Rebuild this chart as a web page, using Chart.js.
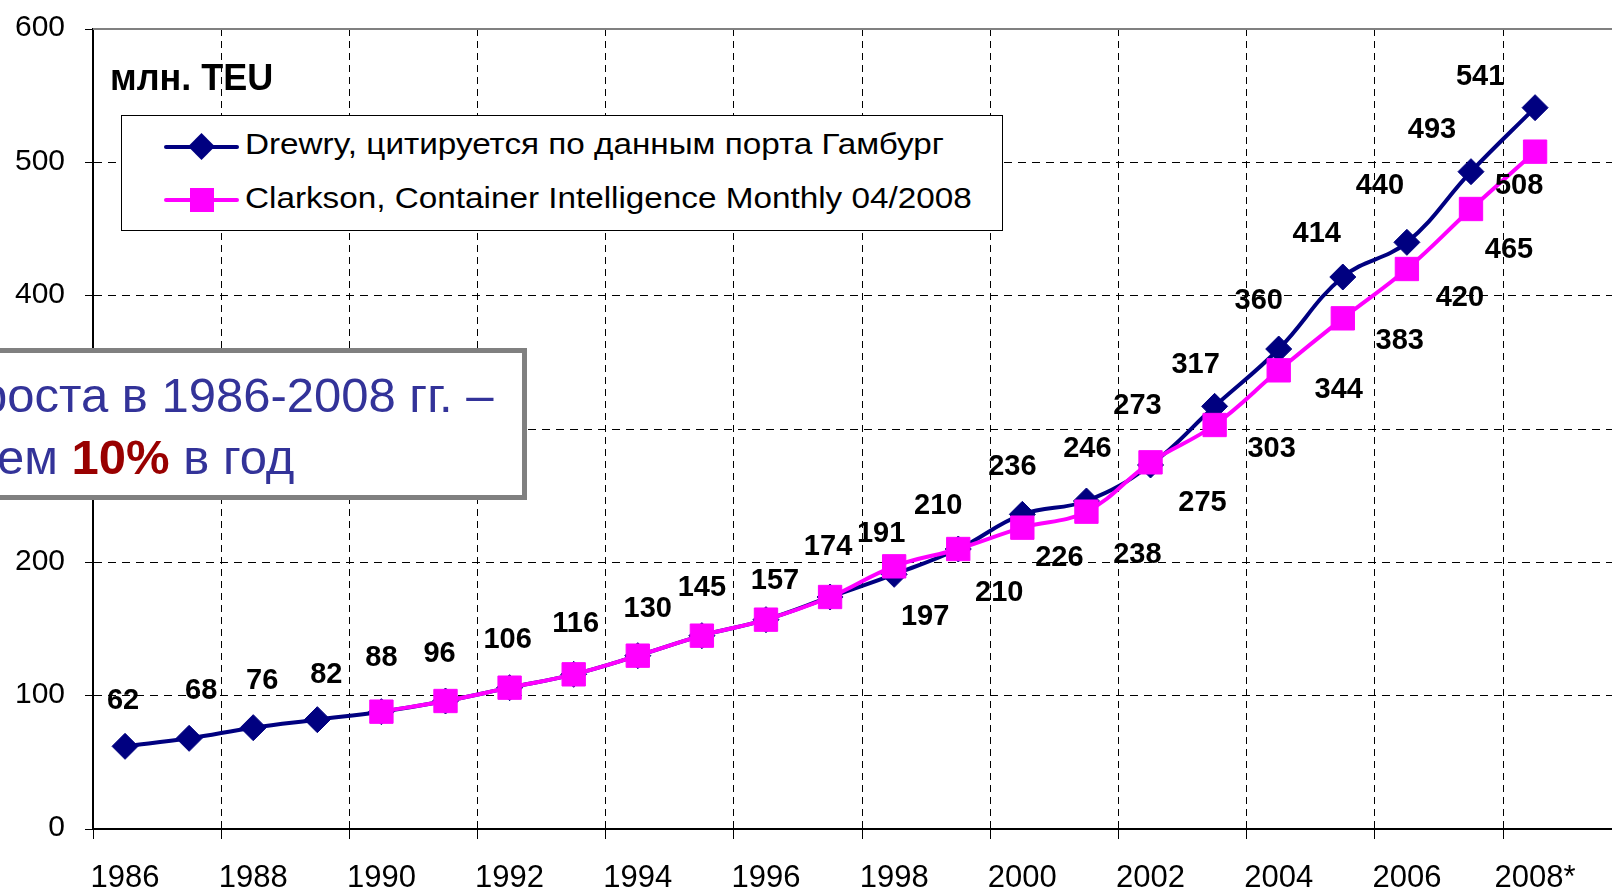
<!DOCTYPE html>
<html>
<head>
<meta charset="utf-8">
<script src="https://cdn.jsdelivr.net/npm/chart.js@4.4.1/dist/chart.umd.min.js"></script>
<style>
    html, body { margin: 0; padding: 0; background: #fff; overflow: hidden; }
    #wrap { position: relative; width: 1612px; height: 889px; overflow: hidden; font-family: 'Liberation Sans', Arial, sans-serif; }
    #chart { position: absolute; left: 0; top: 0; }
    .abs { position: absolute; white-space: nowrap; line-height: 1; }
    #unit { left: 110px; top: 60px; font-size: 36px; font-weight: bold; color: #000; }
    #legend { left: 121px; top: 115px; width: 880px; height: 114px; border: 1px solid #000; background: #fff; }
    .legend-line { position: absolute; left: 42px; width: 75px; height: 4px; border-radius: 2px; }
    .legend-text { position: absolute; left: 123px; font-size: 29px; color: #000; line-height: 1; white-space: nowrap;
        transform: scaleX(1.147); transform-origin: left center; }
    .diamond { position: absolute; left: 28px; top: -8px; width: 19px; height: 19px; background: #000080; transform: rotate(45deg); }
    .square { position: absolute; left: 26px; top: -10px; width: 24px; height: 24px; background: #ff00ff; }
    #callout { left: -40px; top: 348px; width: 557px; height: 142px; border: 5px solid #808080; background: #fff; }
    .callout-text { font-size: 49px; color: #333399; }
    .callout-text b { color: #990000; }
</style>
</head>
<body>
<div id="wrap">
    <canvas id="chart" width="1612" height="889"></canvas>
    <div id="unit" class="abs">млн. TEU</div>
    <div id="legend" class="abs">
        <div class="legend-line" style="top: 29px; background: #000080;"><div class="diamond"></div></div>
        <div class="legend-text" style="top: 14px;">Drewry, цитируется по данным порта Гамбург</div>
        <div class="legend-line" style="top: 82px; background: #ff00ff;"><div class="square"></div></div>
        <div class="legend-text" style="top: 68px;">Clarkson, Container Intelligence Monthly 04/2008</div>
    </div>
    <div id="callout" class="abs"></div>
    <div class="abs callout-text" style="left: -20px; top: 371px;">роста в 1986-2008 гг. –</div>
    <div class="abs callout-text" style="left: -3px; top: 433px;">ем <b>10%</b> в год</div>
</div>
<script>
// Data
const years = ['1986', '1987', '1988', '1989', '1990', '1991', '1992', '1993', '1994', '1995', '1996', '1997',
    '1998', '1999', '2000', '2001', '2002', '2003', '2004', '2005', '2006', '2007', '2008*'];
const drewry = [62, 68, 76, 82, 88, 96, 106, 116, 130, 145, 157, 174, 191, 210, 236, 246, 273, 317, 360, 414, 440, 493, 541];
const clarkson = [null, null, null, null, 88, 96, 106, 116, 130, 145, 157, 174, 197, 210, 226, 238, 275, 303, 344, 383, 420, 465, 508];
const yTicks = [0, 100, 200, 300, 400, 500, 600];

// Label placement (pixel offsets from each point)
const drewryLabelOffsets = [
    [-2, -45], [12, -47], [9, -47], [9, -45], [0, -54], [-6, -47], [-2, -48], [2, -50], [10, -47], [0, -48],
    [9, -39], [-2, -50], [-13, -40], [-20, -43], [-10, -47], [1, -52], [-13, -59], [-19, -41], [-20, -48],
    [-26, -43], [-27, -56], [-39, -42], [-55, -31]
];
const clarksonLabelOffsets = [
    null, null, null, null, null, null, null, null, null, null, null, null,
    [31, 51], [41, 44], [37, 30], [51, 43], [52, 41], [57, 24], [60, 20], [57, 23], [53, 29], [38, 41], [-16, 34]
];

const FONT = "'Liberation Sans', Arial, sans-serif";
const X_MIN = -0.5;
const X_MAX = 23.2;

// Value labels next to the markers
const valueLabels = {
    id: 'valueLabels',
    afterDatasetsDraw(chart) {
        const ctx = chart.ctx;
        ctx.save();
        ctx.font = `bold 29px ${FONT}`;
        ctx.fillStyle = '#000';
        ctx.textAlign = 'center';
        ctx.textBaseline = 'middle';
        chart.data.datasets.forEach((ds, di) => {
            const meta = chart.getDatasetMeta(di);
            ds.labelOffsets.forEach((off, i) => {
                const pt = meta.data[i];
                if (!off || !pt || ds.data[i].y == null) return;
                ctx.fillText(String(ds.data[i].y), pt.x + off[0], pt.y + off[1]);
            });
        });
        ctx.restore();
    }
};

// Top edge of the plot frame
const frameTop = {
    id: 'frameTop',
    beforeDatasetsDraw(chart) {
        const { ctx, chartArea } = chart;
        ctx.save();
        ctx.strokeStyle = '#808080';
        ctx.lineWidth = 2;
        ctx.beginPath();
        ctx.moveTo(chartArea.left, chartArea.top);
        ctx.lineTo(chartArea.right, chartArea.top);
        ctx.stroke();
        ctx.restore();
    }
};

// no extra room for overhanging tick labels
function noPadding(s) {
    s.paddingTop = 0;
    s.paddingBottom = 0;
    s.paddingLeft = 0;
    s.paddingRight = 0;
}

function init() {
    const ctx = document.getElementById('chart').getContext('2d');
    new Chart(ctx, {
        type: 'line',
        data: {
            datasets: [{
                label: 'Drewry, цитируется по данным порта Гамбург',
                data: drewry.map((v, i) => ({ x: i, y: v })),
                labelOffsets: drewryLabelOffsets,
                borderColor: '#000080',
                backgroundColor: '#000080',
                borderWidth: 4,
                tension: 0.4,
                pointStyle: 'rectRot',
                pointRadius: 13,
                pointBorderWidth: 1,
                pointBackgroundColor: '#000080',
                pointBorderColor: '#000080',
                order: 1
            }, {
                label: 'Clarkson, Container Intelligence Monthly 04/2008',
                data: clarkson.map((v, i) => ({ x: i, y: v })),
                labelOffsets: clarksonLabelOffsets,
                borderColor: '#ff00ff',
                backgroundColor: '#ff00ff',
                borderWidth: 4,
                tension: 0.4,
                pointStyle: 'rect',
                pointRadius: 16.5,
                pointBorderWidth: 1,
                pointBackgroundColor: '#ff00ff',
                pointBorderColor: '#ff00ff',
                order: 0
            }]
        },
        options: {
            responsive: false,
            animation: false,
            layout: { autoPadding: false, padding: { top: 29, right: 0, bottom: 0, left: 0 } },
            plugins: {
                legend: { display: false },
                tooltip: { enabled: false }
            },
            scales: {
                // grid lines and tick marks between category pairs
                xg: {
                    type: 'linear',
                    position: 'bottom',
                    weight: 0,
                    min: X_MIN,
                    max: X_MAX,
                    afterBuildTicks: s => {
                        s.ticks = years.map((y, i) => ({ value: i - 0.5 })).filter((t, i) => i % 2 === 0);
                    },
                    afterFit: s => { s.height = 10; noPadding(s); },
                    ticks: { display: false },
                    grid: {
                        color: c => (c.index === 0 ? 'transparent' : '#000'),
                        lineWidth: 1,
                        tickLength: 10,
                        tickColor: '#000',
                        tickWidth: 1
                    },
                    border: { display: true, color: '#000', width: 2, dash: [7, 5] }
                },
                // year labels
                x: {
                    type: 'linear',
                    position: 'bottom',
                    weight: 1,
                    min: X_MIN,
                    max: X_MAX,
                    afterBuildTicks: s => {
                        s.ticks = years.map((y, i) => ({ value: i })).filter(t => t.value % 2 === 0);
                    },
                    afterFit: s => { s.height = 50; noPadding(s); },
                    ticks: {
                        callback: v => years[v],
                        font: { family: FONT, size: 31 },
                        color: '#000',
                        padding: 13,
                        maxRotation: 0,
                        autoSkip: false
                    },
                    grid: { display: false },
                    border: { display: false }
                },
                y: {
                    min: 0,
                    max: 600,
                    afterBuildTicks: s => { s.ticks = yTicks.map(v => ({ value: v })); },
                    afterFit: s => { s.width = 93; noPadding(s); },
                    ticks: {
                        font: { family: FONT, size: 30 },
                        color: '#000',
                        padding: 20,
                        labelOffset: -1
                    },
                    grid: {
                        color: c => (c.tick && (c.tick.value === 0 || c.tick.value === 600) ? 'transparent' : '#000'),
                        lineWidth: 1,
                        tickLength: 8,
                        tickColor: '#000',
                        tickWidth: 1
                    },
                    border: { color: '#000', width: 2, dash: [8, 6] }
                }
            }
        },
        plugins: [frameTop, valueLabels]
    });
}

document.addEventListener('DOMContentLoaded', init);
</script>
</body>
</html>
